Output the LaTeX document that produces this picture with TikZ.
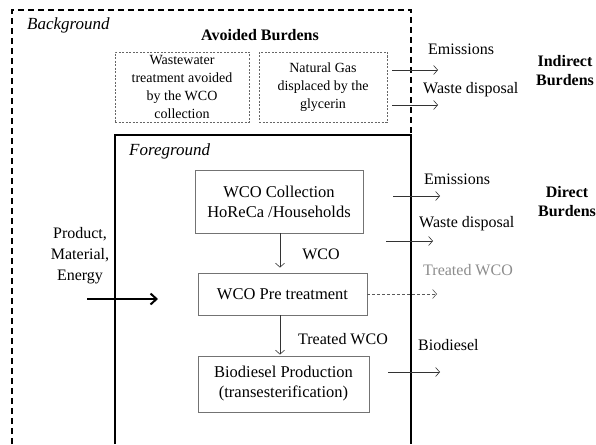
\documentclass[tikz,border=0pt]{standalone}
\usepackage{fontspec}
\setmainfont{Liberation Serif}
\usepackage{tikz}
\usetikzlibrary{arrows}
\usetikzlibrary{arrows.meta}
\usetikzlibrary{positioning}

\begin{document}
\begin{tikzpicture}[x=1pt, y=-1pt,
		procbox/.style={draw=black!55, line width=0.8pt, align=center, inner sep=0pt, font=\fontsize{16.5}{20}\selectfont},
		avoidbox/.style={draw=black!60, line width=0.6pt, dash pattern=on 2pt off 1.5pt, align=center, inner sep=0pt, font=\fontsize{14}{18}\selectfont},
		lbl/.style={font=\fontsize{16}{19}\selectfont, inner sep=0pt},
		zone/.style={font=\fontsize{17}{19}\selectfont\itshape, inner sep=0pt, anchor=west},
		burden/.style={font=\fontsize{16}{19}\selectfont\bfseries, align=center, inner sep=0pt},
		flow/.style={-{Straight Barb[length=4pt, width=9pt]}, draw=black!80, line width=0.6pt}]
	\useasboundingbox (0,0) rectangle (596,444);

	% system boundaries
	\draw[line width=1.8pt, dash pattern=on 6pt off 4pt] (12,444) -- (12,10) -- (411,10) -- (411,135);
	\draw[line width=2pt] (115,444) -- (115,135) -- (411,135) -- (411,444);

	% background
	\node[zone] (bglabel) at (27,25) {Background};
	\node[burden] (avoided) at (260,35) {Avoided Burdens};
	\node[avoidbox, minimum width=134pt, minimum height=70pt] (wwbox) at (182,87) {Wastewater\\treatment avoided\\by the WCO\\collection};
	\node[avoidbox, minimum width=128pt, minimum height=70pt] (ngbox) at (323,87) {Natural Gas\\displaced by the\\glycerin};

	\coordinate (ind1) at (438,70);
	\coordinate (ind2) at (438,105);
	\draw[flow, shorten <=5pt] (ngbox.east |- ind1) -- (ind1);
	\draw[flow, shorten <=5pt] (ngbox.east |- ind2) -- (ind2);
	\node[lbl, anchor=west] (indemi) at (428,49) {Emissions};
	\node[lbl, anchor=west] (indwaste) at (423,90) {Waste disposal};
	\node[burden] (indirect) at (565,71) {Indirect\\Burdens};

	% foreground
	\node[zone] (fglabel) at (129,151) {Foreground};
	\node[procbox, minimum width=168pt, minimum height=63pt] (collect) at (279,201.5) {WCO Collection\\HoReCa /Households};
	\node[procbox, minimum width=169pt, minimum height=42pt] (pretreat) at (282.5,294) {WCO Pre treatment};
	\node[procbox, minimum width=171pt, minimum height=56pt] (biodiesel) at (283.5,384) {Biodiesel Production\\(transesterification)};

	\draw[flow, shorten >=5pt] (collect.south -| 280,0) -- (pretreat.north -| 280,0);
	\draw[flow, shorten >=1pt] (pretreat.south -| 280,0) -- (biodiesel.north -| 280,0);
	\node[lbl] (wcolbl) at (321,254) {WCO};
	\node[lbl] (twcolbl) at (343,339) {Treated WCO};

	% inputs
	\node[lbl, align=center, font=\fontsize{16}{21}\selectfont] (inputs) at (80,256) {Product,\\Material,\\Energy};
	\coordinate (in1) at (87,299);
	\coordinate (in2) at (158,299);
	\draw[-{Straight Barb[length=6pt, width=11pt]}, line width=2pt] (in1) -- (in2);

	% direct outputs
	\coordinate (emi1) at (393,196);
	\coordinate (emi2) at (440,196);
	\coordinate (was1) at (386,241);
	\coordinate (was2) at (433,241);
	\coordinate (tw2) at (437,294);
	\coordinate (bio1) at (388,372);
	\coordinate (bio2) at (440,372);
	\draw[flow] (emi1) -- (emi2);
	\draw[flow] (was1) -- (was2);
	\draw[flow, draw=black!65, dash pattern=on 3pt off 2pt] (pretreat.east) -- (tw2);
	\draw[flow] (bio1) -- (bio2);
	\node[lbl, anchor=west] (diremi) at (424,179) {Emissions};
	\node[lbl, anchor=west] (dirwaste) at (419,224) {Waste disposal};
	\node[lbl, anchor=west, text=black!45] (dirtwco) at (423,270) {Treated WCO};
	\node[lbl, anchor=west] (dirbio) at (418,345) {Biodiesel};
	\node[burden] (direct) at (567,202) {Direct\\Burdens};
\end{tikzpicture}
\end{document}
